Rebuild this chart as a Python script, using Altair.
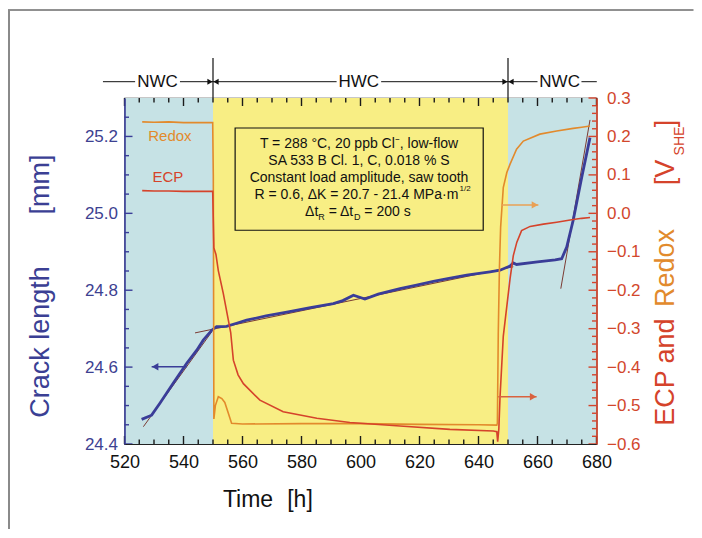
import altair as alt
import pandas as pd

# ---------------- data ----------------
crack_t = [525.8, 529.2, 532.0, 536.5, 541.1, 544.5, 546.7, 549.6, 551.2, 554.6, 558.0, 561.4,
           568.0, 575.5, 583.0, 590.8, 594.0, 597.6, 601.5, 606.0, 613.4, 619.0, 624.7, 630.0,
           636.0, 643.9, 647.3, 650.7, 651.8, 652.9, 660.0, 666.0, 668.2, 669.9, 672.1, 675.0, 677.8]
crack_mm = [24.464, 24.475, 24.506, 24.558, 24.610, 24.644, 24.670, 24.696, 24.705, 24.706, 24.714, 24.722,
            24.733, 24.744, 24.755, 24.765, 24.773, 24.787, 24.777, 24.790, 24.804, 24.813, 24.823, 24.831,
            24.839, 24.848, 24.852, 24.863, 24.871, 24.867, 24.874, 24.879, 24.882, 24.912, 24.982, 25.094, 25.197]

fit_id = [1, 1, 2, 2, 3, 3]
fit_t = [526.4, 549.6, 543.9, 651.8, 667.9, 677.8]
fit_mm = [24.445, 24.692, 24.689, 24.861, 24.804, 25.243]

redox_t = [526.0, 530.0, 535.0, 540.0, 545.0, 549.9, 550.1, 550.3, 550.8, 551.8, 553.0, 554.0,
           555.2, 556.3, 560.0, 580.0, 600.0, 620.0, 640.0, 646.2, 646.4, 646.7, 647.1, 647.5,
           648.4, 649.6, 650.7, 652.9, 655.2, 660.8, 666.5, 672.1, 675.0, 677.8]
redox_v = [0.238, 0.237, 0.238, 0.236, 0.236, 0.236, 0.100, -0.535, -0.500, -0.477, -0.482, -0.492,
           -0.520, -0.546, -0.548, -0.547, -0.547, -0.549, -0.550, -0.551, -0.546, -0.313, -0.140, -0.036,
           0.067, 0.106, 0.128, 0.167, 0.188, 0.206, 0.214, 0.221, 0.224, 0.227]

ecp_t = [526.0, 530.0, 535.0, 540.0, 545.0, 549.9, 550.0, 550.3, 551.0, 551.8, 553.5, 555.2,
         556.0, 556.9, 558.5, 560.3, 565.9, 573.8, 585.2, 596.4, 613.4, 630.3, 645.0, 646.2,
         646.5, 646.9, 647.3, 648.4, 650.7, 651.8, 653.0, 654.6, 657.5, 662.0, 666.5, 672.1, 675.0, 677.8]
ecp_v = [0.059, 0.058, 0.058, 0.057, 0.057, 0.057, 0.020, -0.090, -0.107, -0.149, -0.209, -0.278,
         -0.310, -0.382, -0.420, -0.443, -0.486, -0.516, -0.533, -0.544, -0.553, -0.562, -0.566, -0.568,
         -0.594, -0.560, -0.477, -0.320, -0.170, -0.110, -0.075, -0.045, -0.034, -0.028, -0.023, -0.016, -0.013, -0.011]

region_t0 = [520, 550, 650]
region_t1 = [550, 650, 680]
region_fill = ["#c6e2e5", "#f8ee84", "#c6e2e5"]

x_major = [520, 540, 560, 580, 600, 620, 640, 660, 680]
x_minor = [v for v in range(520, 681, 5) if v % 20 != 0]
l_major = [24.4, 24.6, 24.8, 25.0, 25.2]
l_minor = [round(24.4 + 0.05 * i, 2) for i in range(1, 18) if i % 4 != 0]
r_major = [-0.6, -0.5, -0.4, -0.3, -0.2, -0.1, 0.0, 0.1, 0.2, 0.3]
r_minor = [round(-0.6 + 0.02 * i, 2) for i in range(1, 45) if i % 5 != 0]

BLUE = "#3a3d98"
RED = "#d5432b"
ORANGE = "#e28a2c"
FONT = "Liberation Sans"
W, H = 472, 346
X0, X1 = 520, 680
L0, L1 = 24.4, 25.3
R0, R1 = -0.6, 0.3
PX_T = W / (X1 - X0)      # pixels per hour
PX_L = H / (L1 - L0)      # pixels per mm

xs = alt.Scale(domain=[X0, X1], nice=False, zero=False)
ls = alt.Scale(domain=[L0, L1], nice=False, zero=False)
rs = alt.Scale(domain=[R0, R1], nice=False, zero=False)

x_axis = alt.Axis(values=x_major, format="d", ticks=False, grid=False, title=None,
                  labelFontSize=18, labelColor="#111", labelFont=FONT, labelPadding=9,
                  labelFlush=False, labelOverlap=False, domainColor="#222", domainWidth=1.2, zindex=1)
l_axis = alt.Axis(values=l_major, format=".1f", ticks=False, grid=False, title=None,
                  labelFontSize=17, labelColor="#3d4191", labelFont=FONT, labelPadding=7,
                  labelFlush=False, labelOverlap=False, domainColor=BLUE, domainWidth=1.6, zindex=1)
r_axis = alt.Axis(values=r_major, format=".1f", ticks=False, grid=False, title=None, orient="right",
                  labelFontSize=17, labelColor="#d2472c", labelFont=FONT, labelPadding=10,
                  labelFlush=False, labelOverlap=False, domainColor=RED, domainWidth=1.6, zindex=1)


def X(f="t"):
    return alt.X(f, type="quantitative", scale=xs, axis=x_axis)


def YL(f="v"):
    return alt.Y(f, type="quantitative", scale=ls, axis=l_axis)


def YR(f="v"):
    return alt.Y(f, type="quantitative", scale=rs, axis=r_axis)


one = pd.DataFrame({"k": [0]})


def ptext(text, px, py, size, color, angle=0, align="center", baseline="middle"):
    kw = dict(text=text, fontSize=size, color=color, font=FONT, align=align, baseline=baseline)
    if angle:
        kw["angle"] = angle
    return alt.Chart(one).mark_text(**kw).encode(x=alt.value(px), y=alt.value(py))


def hticks(vals, length, base, sign):
    # inward tick marks on the bottom (sign=+1, base=L0) or top (sign=-1, base=L1) edge
    df = pd.DataFrame({"t": vals, "v": [base] * len(vals), "v2": [base + sign * length / PX_L] * len(vals)})
    return alt.Chart(df).mark_rule(color="#1a1a1a", strokeWidth=1.4).encode(
        x=X(), y=YL("v"), y2=alt.Y2("v2"))


def lticks(vals, length):
    df = pd.DataFrame({"v": vals, "t": [X0] * len(vals), "t2": [X0 + length / PX_T] * len(vals)})
    return alt.Chart(df).mark_rule(color=BLUE, strokeWidth=1.4).encode(
        x=X(), x2=alt.X2("t2"), y=YL())


def rticks(vals, length):
    df = pd.DataFrame({"v": vals, "t": [X1] * len(vals), "t2": [X1 - length / PX_T] * len(vals)})
    return alt.Chart(df).mark_rule(color=RED, strokeWidth=1.4).encode(
        x=X(), x2=alt.X2("t2"), y=YR())


# ---------------- left (crack length) group ----------------
regions = pd.DataFrame({"t": region_t0, "t2": region_t1, "fill": region_fill})
bg = alt.Chart(regions).mark_rect().encode(
    x=X(), x2=alt.X2("t2"), y=alt.value(0), y2=alt.value(H), fill=alt.Fill("fill:N", scale=None))

ticks_left = [hticks(x_major, 8, L0, 1), hticks(x_minor, 4.5, L0, 1),
              hticks(x_major, 8, L1, -1), hticks(x_minor, 4.5, L1, -1),
              lticks(l_major, 8), lticks(l_minor, 4.5)]

crack = alt.Chart(pd.DataFrame({"t": crack_t, "v": crack_mm})).mark_line(
    color=BLUE, strokeWidth=2.8).encode(x=X(), y=YL())
fits = alt.Chart(pd.DataFrame({"id": fit_id, "t": fit_t, "v": fit_mm})).mark_line(
    color="#7b3b33", strokeWidth=1).encode(x=X(), y=YL(), detail="id:N")

blue_arrow = alt.Chart(pd.DataFrame({"t": [529.2], "t2": [541.1], "v": [24.601]})).mark_rule(
    color=BLUE, strokeWidth=1.5).encode(x=X(), x2=alt.X2("t2"), y=YL())
blue_head = alt.Chart(pd.DataFrame({"t": [529.2], "v": [24.601]})).mark_point(
    shape="triangle-left", filled=True, size=55, color=BLUE, opacity=1, xOffset=3.5).encode(x=X(), y=YL())

# text box
box = alt.Chart(pd.DataFrame({"t": [557.5], "t2": [641.6], "v": [24.956], "v2": [25.222]})).mark_rect(
    fill="#f8ee84", stroke="#111", strokeWidth=1.2).encode(x=X(), x2=alt.X2("t2"), y=YL(), y2=alt.Y2("v2"))

box_lines = pd.DataFrame({
    "t": [599.5, 599.5, 599.5],
    "v": [25.181, 25.136, 25.093],
    "label": ["T = 288 °C, 20 ppb Cl⁻, low-flow",
              "SA 533 B Cl. 1, C, 0.018 % S",
              "Constant load amplitude, saw tooth"]})
box_txt = alt.Chart(box_lines).mark_text(fontSize=14, font=FONT, color="#111", baseline="middle").encode(
    x=X(), y=YL(), text="label:N")
line4 = alt.Chart(pd.DataFrame({"t": [633.15], "v": [25.047], "label": ["R = 0.6, ΔK = 20.7 - 21.4 MPa·m"]})).mark_text(
    fontSize=14, font=FONT, color="#111", align="right", baseline="middle").encode(x=X(), y=YL(), text="label:N")
line4_sup = alt.Chart(pd.DataFrame({"t": [633.6], "v": [25.064], "label": ["1/2"]})).mark_text(
    fontSize=8, font=FONT, color="#111", align="left", baseline="middle").encode(x=X(), y=YL(), text="label:N")
line5 = alt.Chart(pd.DataFrame({"t": [581.2, 589.2, 601.3], "v": [25.003, 25.003, 25.003],
                                "label": ["Δt", "= Δt", "=  200 s"]})).mark_text(
    fontSize=14, font=FONT, color="#111", align="left", baseline="middle").encode(x=X(), y=YL(), text="label:N")
line5_sub = alt.Chart(pd.DataFrame({"t": [585.7, 597.8], "v": [24.991, 24.991], "label": ["R", "D"]})).mark_text(
    fontSize=9, font=FONT, color="#111", align="left", baseline="middle").encode(x=X(), y=YL(), text="label:N")

# NWC / HWC banner above the plot
YB = -16.3
seg = pd.DataFrame({"t": [512.7, 538.8, 550.0, 607.0, 650.0, 674.9],
                    "t2": [523.6, 550.0, 591.9, 650.0, 660.0, 680.1]})
banner_lines = alt.Chart(seg).mark_rule(color="#111", strokeWidth=1).encode(
    x=X(), x2=alt.X2("t2"), y=alt.value(YB))
vlines = alt.Chart(pd.DataFrame({"t": [550, 650]})).mark_rule(color="#111", strokeWidth=1.2).encode(
    x=X(), y=alt.value(-40), y2=alt.value(0))
heads_r = alt.Chart(pd.DataFrame({"t": [550, 650]})).mark_point(
    shape="triangle-right", filled=True, size=36, color="#111", opacity=1, xOffset=-3).encode(x=X(), y=alt.value(YB))
heads_l = alt.Chart(pd.DataFrame({"t": [550, 650]})).mark_point(
    shape="triangle-left", filled=True, size=36, color="#111", opacity=1, xOffset=3).encode(x=X(), y=alt.value(YB))
banner_txt = alt.Chart(pd.DataFrame({"t": [531.2, 599.4, 667.5], "label": ["NWC", "HWC", "NWC"]})).mark_text(
    fontSize=17, font=FONT, color="#111", baseline="middle").encode(x=X(), y=alt.value(YB), text="label:N")

# frame around the figure
frame_top = alt.Chart(one).mark_rule(color="#222", strokeWidth=1).encode(
    x=alt.value(-116.5), x2=alt.value(W + 97), y=alt.value(-88))
frame_left = alt.Chart(one).mark_rule(color="#8a8a8a", strokeWidth=2).encode(
    x=alt.value(-115.5), y=alt.value(-88), y2=alt.value(H + 85))

titles = [
    ptext("Crack length", -83.5, 244, 27, "#3b3f94", angle=270),
    ptext("[mm]", -83.5, 86.5, 27, "#3b3f94", angle=270),
    ptext("Time", 123.5, 402, 23, "#111"),
    ptext("[h]", 175.5, 402, 23, "#111"),
    ptext("ECP", 541.5, 300, 27, RED, angle=270),
    ptext("and", 541.5, 243, 27, RED, angle=270),
    ptext("Redox", 541.5, 170, 27, ORANGE, angle=270),
    ptext("[V", 541.5, 74.5, 27, RED, angle=270),
    ptext("SHE", 555.5, 43, 14, RED, angle=270),
    ptext("]", 541.5, 25.5, 27, RED, angle=270),
]

left = alt.layer(bg, *ticks_left, box, box_txt, line4, line4_sup, line5, line5_sub,
                 fits, crack, blue_arrow, blue_head,
                 banner_lines, vlines, heads_r, heads_l, banner_txt, frame_top, frame_left, *titles)

# ---------------- right (potential) group ----------------
redox = alt.Chart(pd.DataFrame({"t": redox_t, "v": redox_v})).mark_line(
    color=ORANGE, strokeWidth=1.6).encode(x=X(), y=YR())
ecp = alt.Chart(pd.DataFrame({"t": ecp_t, "v": ecp_v})).mark_line(
    color=RED, strokeWidth=1.6).encode(x=X(), y=YR())
arrows = pd.DataFrame({"t": [647.8, 646.7], "t2": [660.3, 659.7], "v": [0.022, -0.477], "c": ["#e9a055", "#d9623f"]})
arrow_shafts = alt.Chart(arrows).mark_rule(strokeWidth=1.5).encode(
    x=X(), x2=alt.X2("t2"), y=YR(), color=alt.Color("c:N", scale=None))
arrow_heads = alt.Chart(arrows).mark_point(shape="triangle-right", filled=True, size=55, opacity=1, xOffset=-3.5).encode(
    x=X("t2"), y=YR(), color=alt.Color("c:N", scale=None))
series_lbl = alt.Chart(pd.DataFrame({"t": [535.4, 534.7], "v": [0.201, 0.095], "label": ["Redox", "ECP"],
                                     "c": [ORANGE, RED]})).mark_text(fontSize=15, font=FONT, baseline="middle").encode(
    x=X(), y=YR(), text="label:N", color=alt.Color("c:N", scale=None))

right = alt.layer(rticks(r_major, 8), rticks(r_minor, 4.5), redox, ecp, arrow_shafts, arrow_heads, series_lbl)

chart = alt.layer(left, right).resolve_scale(y="independent").properties(
    width=W, height=H,
    autosize=alt.AutoSizeParams(type="none"),
    padding={"left": 116.5, "top": 90, "right": 97, "bottom": 85},
    background="white",
).configure_view(stroke="#222", strokeWidth=1.2)

chart.save("out.html", embed_options={"renderer": "svg", "actions": False})
